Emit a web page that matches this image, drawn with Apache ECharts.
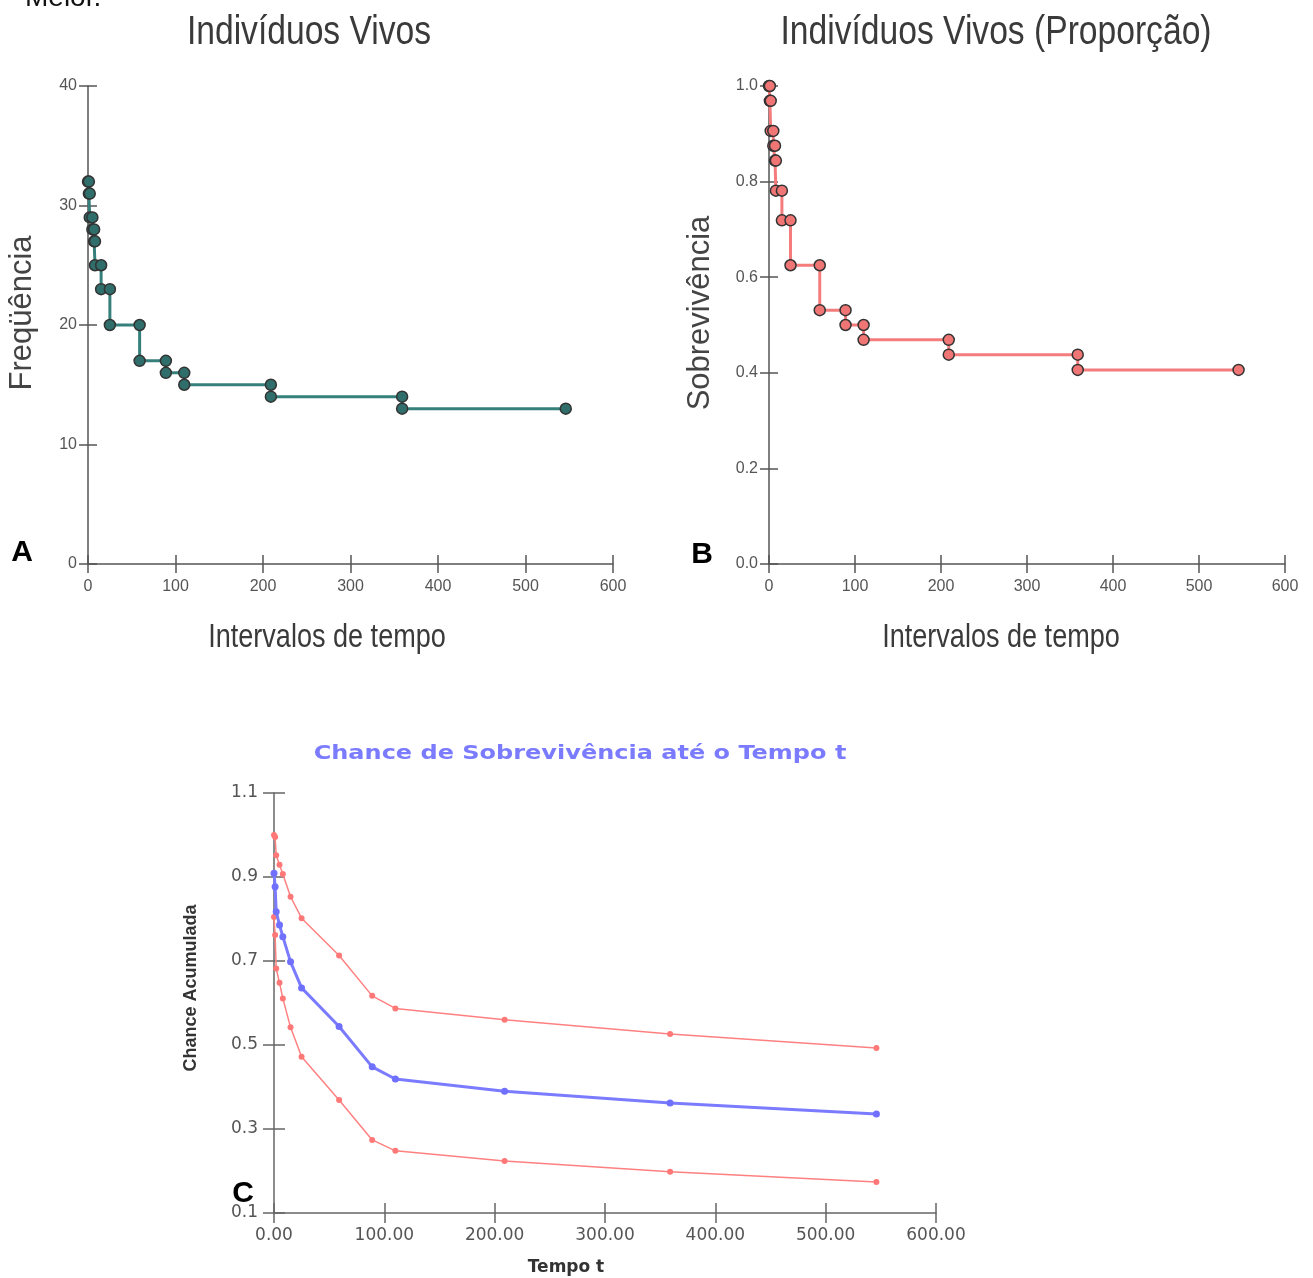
<!DOCTYPE html>
<html><head><meta charset="utf-8">
<script src="https://cdn.jsdelivr.net/npm/echarts@6/dist/echarts.min.js"></script>
<style>html,body{margin:0;padding:0;background:#fff}#c{width:1313px;height:1278px}</style>
</head><body><div id="c"></div>
<script>
// ---- Data ----
// Panel A: individuals alive (count) at each event time
const aStartCount = 32;
const eventTimes = [1, 2, 5, 7, 8, 15, 25, 59, 89, 110, 209, 359];
const aCounts = [31, 29, 28, 27, 25, 23, 20, 17, 16, 15, 14, 13];
const lastTime = 546;
// Panel B: proportion alive
const bStartProp = 1.0;
const bProps = [0.969, 0.906, 0.875, 0.844, 0.781, 0.719, 0.625, 0.531, 0.5, 0.469, 0.438, 0.406];
// Panel C: cumulative survival chance with bands
const cTimes = [0, 1, 2, 5, 8, 15, 25, 59, 89, 110, 209, 359, 546];
const cMid = [0.909, 0.877, 0.817, 0.786, 0.758, 0.698, 0.636, 0.544, 0.448, 0.419, 0.390, 0.362, 0.336];
const cUpper = [1.0, 0.995, 0.952, 0.929, 0.907, 0.853, 0.802, 0.713, 0.617, 0.587, 0.560, 0.526, 0.493];
const cLower = [0.805, 0.762, 0.682, 0.648, 0.611, 0.542, 0.472, 0.369, 0.274, 0.248, 0.224, 0.198, 0.174];

function steps(start, times, vals, endT) {
  const out = [[0, start]];
  let prev = start;
  for (let i = 0; i < times.length; i++) {
    out.push([times[i], prev]);
    out.push([times[i], vals[i]]);
    prev = vals[i];
  }
  out.push([endT, prev]);
  return out;
}
const zip = (xs, ys) => xs.map((x, i) => [x, ys[i]]);

const chart = echarts.init(document.getElementById('c'), null, {renderer: 'canvas'});
const AX = '#555';
const sans = '"Liberation Sans", Arial, sans-serif';
const dv = '"DejaVu Sans", Verdana, sans-serif';

function xAx(grid, max, fmt, opts) {
  return [{
    type: 'value', gridIndex: grid, min: 0, max: max, interval: 100, position: 'bottom',
    axisLine: {lineStyle: {color: opts.color, width: 1.5}},
    axisTick: {show: true, inside: false, length: opts.tick, lineStyle: {color: opts.color, width: 1.5}},
    axisLabel: {color: opts.lcolor, fontSize: opts.fs, fontFamily: opts.ff, margin: opts.margin, formatter: fmt},
    splitLine: {show: false}
  }, {
    type: 'value', gridIndex: grid, min: 0, max: max, interval: 100, position: 'bottom', offset: 0,
    axisLine: {show: false},
    axisTick: {show: true, inside: true, length: opts.tick, lineStyle: {color: opts.color, width: 1.5}},
    axisLabel: {show: false}, splitLine: {show: false}
  }];
}
function yAx(grid, min, max, interval, fmt, opts) {
  return [{
    type: 'value', gridIndex: grid, min: min, max: max, interval: interval, position: 'left',
    axisLine: {show: true, lineStyle: {color: opts.color, width: 1.5}},
    axisTick: {show: true, inside: false, length: opts.tick, lineStyle: {color: opts.color, width: 1.5}},
    axisLabel: {color: opts.lcolor, fontSize: opts.fs, fontFamily: opts.ff, margin: opts.margin, formatter: fmt},
    splitLine: {show: false}
  }, {
    type: 'value', gridIndex: grid, min: min, max: max, interval: interval, position: 'left', offset: 0,
    axisLine: {show: false},
    axisTick: {show: true, inside: true, length: opts.tick, lineStyle: {color: opts.color, width: 1.5}},
    axisLabel: {show: false}, splitLine: {show: false}
  }];
}
const abOpts = {color: AX, lcolor: '#555', fs: 16, ff: sans, tick: 9, margin: 11};
const abXOpts = Object.assign({}, abOpts, {margin: 15});
const cOpts = {color: '#666', lcolor: '#555', fs: 17, ff: dv, tick: 11, margin: 16};
const cXOpts = Object.assign({}, cOpts, {tick: 10, margin: 14});

const xAxes = [].concat(
  xAx(0, 600, v => String(v), abXOpts),
  xAx(1, 600, v => String(v), abXOpts),
  xAx(2, 600, v => v.toFixed(2), cXOpts)
);
const yAxes = [].concat(
  yAx(0, 0, 40, 10, v => String(v), abOpts),
  yAx(1, 0, 1, 0.2, v => v.toFixed(1), abOpts),
  yAx(2, 0.1, 1.1, 0.2, v => v.toFixed(1), cOpts)
);

const stepMarker = (fill) => ({color: fill, borderColor: '#333', borderWidth: 1.5});

const option = {
  backgroundColor: '#fff',
  animation: false,
  grid: [
    {left: 88, top: 86, width: 525, height: 478},
    {left: 769, top: 86, width: 516, height: 478},
    {left: 274, top: 793, width: 662, height: 420}
  ],
  xAxis: xAxes,
  yAxis: yAxes,
  series: [
    {type: 'line', xAxisIndex: 0, yAxisIndex: 0, data: steps(aStartCount, eventTimes, aCounts, lastTime),
     lineStyle: {color: '#36807c', width: 3}, symbol: 'circle', symbolSize: 11,
     itemStyle: stepMarker('#2f6e6b'), z: 3},
    {type: 'line', xAxisIndex: 2, yAxisIndex: 2, data: steps(bStartProp, eventTimes, bProps, lastTime),
     lineStyle: {color: '#f47c7c', width: 3}, symbol: 'circle', symbolSize: 11,
     itemStyle: stepMarker('#f07575'), z: 3},
    {type: 'line', xAxisIndex: 4, yAxisIndex: 4, data: zip(cTimes, cUpper),
     lineStyle: {color: '#ff8080', width: 1.5}, symbol: 'circle', symbolSize: 6,
     itemStyle: {color: '#ff7878'}, z: 3},
    {type: 'line', xAxisIndex: 4, yAxisIndex: 4, data: zip(cTimes, cLower),
     lineStyle: {color: '#ff8080', width: 1.5}, symbol: 'circle', symbolSize: 6,
     itemStyle: {color: '#ff7878'}, z: 3},
    {type: 'line', xAxisIndex: 4, yAxisIndex: 4, data: zip(cTimes, cMid),
     lineStyle: {color: '#7b7bff', width: 3}, symbol: 'circle', symbolSize: 7,
     itemStyle: {color: '#7070ff'}, z: 4}
  ],
  graphic: [
    {type: 'text', left: 25, top: -16, style: {text: 'Melor.', font: '28px ' + sans, fill: '#111'}},
    {type: 'text', x: 309, y: 33, scaleX: 0.82, style: {text: 'Indivíduos Vivos', font: '41px ' + sans, fill: '#3a3a3a', align: 'center', verticalAlign: 'middle'}},
    {type: 'text', x: 996, y: 33, scaleX: 0.82, style: {text: 'Indivíduos Vivos (Proporção)', font: '41px ' + sans, fill: '#3a3a3a', align: 'center', verticalAlign: 'middle'}},
    {type: 'text', x: 327, y: 638, scaleX: 0.82, style: {text: 'Intervalos de tempo', font: '33px ' + sans, fill: '#3a3a3a', align: 'center', verticalAlign: 'middle'}},
    {type: 'text', x: 1001, y: 638, scaleX: 0.82, style: {text: 'Intervalos de tempo', font: '33px ' + sans, fill: '#3a3a3a', align: 'center', verticalAlign: 'middle'}},
    {type: 'text', x: 22, y: 313, rotation: Math.PI / 2, style: {text: 'Freqüência', font: '31px ' + sans, fill: '#444', align: 'center', verticalAlign: 'middle'}},
    {type: 'text', x: 700, y: 313, rotation: Math.PI / 2, style: {text: 'Sobrevivência', font: '31px ' + sans, fill: '#444', align: 'center', verticalAlign: 'middle'}},
    {type: 'text', x: 22, y: 553, style: {text: 'A', font: 'bold 30px ' + sans, fill: '#000', align: 'center', verticalAlign: 'middle'}},
    {type: 'text', x: 702, y: 555, style: {text: 'B', font: 'bold 30px ' + sans, fill: '#000', align: 'center', verticalAlign: 'middle'}},
    {type: 'text', x: 243, y: 1194, style: {text: 'C', font: 'bold 30px ' + sans, fill: '#000', align: 'center', verticalAlign: 'middle'}},
    {type: 'text', x: 580, y: 754, scaleX: 1.2, style: {text: 'Chance de Sobrevivência até o Tempo t', font: 'bold 20px ' + dv, fill: '#7b7bff', align: 'center', verticalAlign: 'middle'}},
    {type: 'text', x: 191, y: 988, rotation: Math.PI / 2, style: {text: 'Chance Acumulada', font: 'bold 18px ' + sans, fill: '#333', align: 'center', verticalAlign: 'middle'}},
    {type: 'text', x: 566, y: 1268, style: {text: 'Tempo t', font: 'bold 17px ' + dv, fill: '#333', align: 'center', verticalAlign: 'middle'}}
  ]
};
chart.setOption(option);
</script>
</body></html>
